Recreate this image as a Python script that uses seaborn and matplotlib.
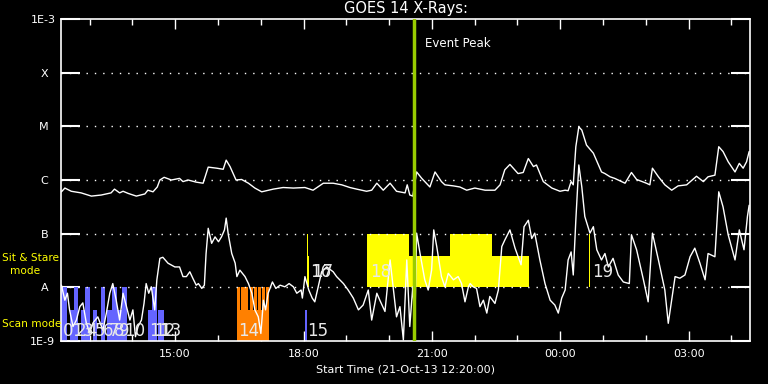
import matplotlib
matplotlib.use("Agg")
import matplotlib.pyplot as plt
import numpy as np
import pandas as pd
import seaborn as sns

# GOES 14 X-ray flux, time in hours after the start (21-Oct-13 12:20), flux as log10(W/m^2)
start_text = "Start Time (21-Oct-13 12:20:00)"
start_hour = 12 + 20 / 60
t_end = 16.1

long_t = [0.01, 0.09, 0.24, 0.47, 0.71, 0.94, 1.17, 1.25, 1.37, 1.45, 1.57, 1.76, 1.96, 2.03,
          2.15, 2.25, 2.31, 2.41, 2.58, 2.77, 2.85, 2.97, 3.16, 3.32, 3.44, 3.64, 3.79, 3.86,
          3.95, 4.09, 4.22, 4.38, 4.53, 4.69, 4.96, 5.19, 5.43, 5.70, 5.89, 6.13, 6.36, 6.56,
          6.75, 6.91, 7.14, 7.26, 7.38, 7.53, 7.69, 7.84, 8.04, 8.09, 8.15, 8.22, 8.31, 8.43,
          8.62, 8.74, 8.89, 8.97, 9.17, 9.32, 9.48, 9.67, 9.91, 10.14, 10.26, 10.37, 10.49,
          10.68, 10.80, 10.92, 11.04, 11.11, 11.27, 11.47, 11.66, 11.78, 11.85, 11.92, 11.97,
          12.03, 12.10, 12.17, 12.28, 12.44, 12.63, 12.71, 12.83, 12.94, 13.18, 13.33, 13.45,
          13.68, 13.76, 13.82, 13.96, 14.11, 14.27, 14.42, 14.62, 14.85, 15.01, 15.12, 15.28,
          15.37, 15.47, 15.59, 15.75, 15.85, 15.94, 16.02, 16.08]
long_logf = [-6.22, -6.15, -6.21, -6.24, -6.30, -6.28, -6.24, -6.17, -6.24, -6.21, -6.25, -6.30,
             -6.26, -6.19, -6.22, -6.13, -6.00, -5.95, -6.00, -5.97, -6.03, -6.00, -6.04, -6.06,
             -5.76, -5.78, -5.80, -5.63, -5.75, -6.00, -5.99, -6.06, -6.15, -6.22, -6.17, -6.14,
             -6.15, -6.14, -6.19, -6.06, -6.06, -6.09, -6.14, -6.17, -6.21, -6.19, -6.06, -6.19,
             -6.06, -6.21, -6.24, -6.09, -6.28, -6.30, -5.85, -5.97, -6.13, -5.85, -6.03, -6.09,
             -6.11, -6.13, -6.19, -6.15, -6.19, -6.19, -6.09, -5.81, -5.71, -5.88, -5.86, -5.60,
             -5.75, -5.72, -6.03, -6.15, -6.21, -6.19, -6.20, -6.03, -6.09, -5.38, -5.01, -5.07,
             -5.35, -5.50, -5.85, -5.88, -5.94, -5.97, -6.06, -5.86, -5.99, -6.06, -6.09, -5.78,
             -5.94, -6.09, -6.19, -6.11, -6.09, -5.93, -6.03, -5.94, -5.91, -5.38, -5.47, -5.66,
             -5.85, -5.69, -5.78, -5.66, -5.47]

short_t = [0.01, 0.09, 0.15, 0.20, 0.28, 0.36, 0.44, 0.51, 0.59, 0.67, 0.75, 0.86, 0.98, 1.06,
           1.14, 1.21, 1.29, 1.37, 1.45, 1.53, 1.61, 1.68, 1.74, 1.80, 1.88, 1.94, 1.99, 2.05,
           2.11, 2.19, 2.24, 2.31, 2.38, 2.50, 2.66, 2.77, 2.85, 2.93, 3.01, 3.08, 3.16, 3.21,
           3.29, 3.35, 3.39, 3.44, 3.52, 3.60, 3.68, 3.75, 3.82, 3.86, 3.91, 3.99, 4.07, 4.11,
           4.18, 4.30, 4.38, 4.46, 4.53, 4.61, 4.67, 4.73, 4.78, 4.84, 4.94, 5.02, 5.12, 5.23,
           5.33, 5.43, 5.51, 5.61, 5.64, 5.70, 5.79, 5.87, 5.93, 6.01, 6.09, 6.21, 6.36, 6.44,
           6.60, 6.71, 6.83, 6.95, 7.06, 7.18, 7.26, 7.38, 7.45, 7.57, 7.69, 7.76, 7.84, 7.92,
           8.00, 8.08, 8.15, 8.22, 8.27, 8.31, 8.39, 8.50, 8.58, 8.66, 8.71, 8.78, 8.89, 8.97,
           9.05, 9.17, 9.28, 9.36, 9.44, 9.52, 9.56, 9.63, 9.71, 9.79, 9.87, 9.95, 10.02, 10.14,
           10.22, 10.30, 10.37, 10.49, 10.61, 10.75, 10.82, 10.92, 11.00, 11.07, 11.19, 11.31,
           11.43, 11.54, 11.62, 11.70, 11.78, 11.85, 11.92, 11.97, 12.03, 12.10, 12.17, 12.24,
           12.36, 12.44, 12.52, 12.63, 12.71, 12.79, 12.90, 13.02, 13.14, 13.28, 13.33, 13.45,
           13.61, 13.72, 13.82, 13.96, 14.11, 14.19, 14.27, 14.35, 14.46, 14.58, 14.70, 14.81,
           14.93, 15.05, 15.12, 15.28, 15.37, 15.47, 15.59, 15.75, 15.85, 15.96, 16.04, 16.08]
short_logf = [-7.96, -8.24, -8.11, -8.42, -8.73, -8.61, -8.36, -8.29, -8.66, -8.85, -8.66, -8.55,
              -8.80, -8.48, -8.11, -7.93, -8.24, -8.61, -8.11, -8.36, -8.61, -8.42, -8.92, -8.73,
              -8.61, -8.30, -7.93, -8.11, -7.99, -8.42, -7.86, -7.46, -7.44, -7.55, -7.62, -7.62,
              -7.80, -7.80, -7.71, -7.83, -7.96, -7.93, -8.02, -7.96, -7.37, -6.90, -7.18, -7.06,
              -7.15, -7.06, -6.93, -6.71, -7.02, -7.37, -7.55, -7.80, -7.68, -7.80, -7.93, -8.11,
              -8.42, -8.55, -8.86, -8.24, -8.42, -8.11, -7.90, -8.02, -7.96, -7.99, -7.93, -7.99,
              -8.11, -8.05, -8.20, -7.80, -8.05, -8.20, -8.27, -7.99, -7.71, -7.62, -7.71, -7.80,
              -7.93, -8.05, -8.20, -8.42, -8.33, -8.05, -8.61, -8.11, -8.24, -8.45, -7.49, -7.99,
              -8.55, -8.36, -8.98, -7.49, -8.73, -7.99, -8.61, -6.99, -7.37, -7.86, -8.05, -7.68,
              -6.93, -7.24, -7.80, -7.99, -7.74, -7.86, -7.80, -7.93, -8.27, -7.99, -7.93, -7.99,
              -8.02, -8.36, -8.24, -8.48, -8.17, -8.30, -8.05, -7.24, -7.12, -6.93, -7.27, -7.58,
              -6.87, -6.75, -7.09, -6.99, -7.49, -7.93, -8.24, -8.33, -8.48, -8.20, -8.05, -7.49,
              -7.34, -7.77, -6.75, -5.72, -6.13, -6.68, -6.99, -6.87, -7.30, -7.49, -7.37, -7.62,
              -7.46, -7.77, -7.90, -7.93, -7.02, -7.30, -7.86, -8.27, -6.99, -7.49, -8.05, -8.67,
              -8.24, -7.80, -7.83, -7.77, -7.43, -7.27, -7.55, -7.86, -7.37, -7.43, -6.22, -6.50,
              -7.02, -7.49, -6.93, -7.30, -6.68, -6.47]

# scan mode observations: start, end (hours), top flux
scan_ids = ["0", "1", "2", "3", "4", "5", "6", "7", "8", "9", "10", "11", "12", "13"]
scan_start = [0.00, 0.21, 0.30, 0.47, 0.56, 0.75, 0.93, 1.07, 1.19, 1.31, 1.43, 2.03, 2.13, 2.27]
scan_end = [0.14, 0.30, 0.40, 0.56, 0.68, 0.84, 1.03, 1.19, 1.31, 1.43, 1.54, 2.13, 2.24, 2.41]
scan_top = [1e-8, 3.8e-9, 1e-8, 3.8e-9, 1e-8, 3.8e-9, 1e-8, 3.8e-9, 1e-8, 3.8e-9, 1e-8,
            3.8e-9, 1e-8, 3.8e-9]

# scan 14 (event scan, orange) and scan 15
s14_start = [4.11, 4.11, 4.21, 4.31, 4.41, 4.51, 4.60, 4.70, 4.80]
s14_end = [4.86, 4.19, 4.29, 4.38, 4.49, 4.58, 4.68, 4.77, 4.86]
s14_top = [3.8e-9, 1e-8, 1e-8, 1e-8, 1e-8, 1e-8, 1e-8, 1e-8, 1e-8]
s15_start, s15_end, s15_top = 5.70, 5.76, 3.8e-9

# sit & stare observations
ss_ids = ["16", "17", "18", "", "", "", "19"]
ss_start = [5.74, 5.78, 7.15, 8.13, 9.09, 10.07, 12.34]
ss_end = [5.78, 5.80, 8.13, 9.09, 10.07, 10.93, 12.365]
ss_top = [1e-7, 3.8e-8, 1e-7, 3.8e-8, 1e-7, 3.8e-8, 1e-7]

event_peak = 8.25

class_names = ["1E-9", "A  ", "B  ", "C  ", "M  ", "X  ", "1E-3"]
class_levels = [1e-9, 1e-8, 1e-7, 1e-6, 1e-5, 1e-4, 1e-3]
hour_labels = ["15:00", "18:00", "21:00", "00:00", "03:00"]

sns.set_theme(style="dark", rc={
    "figure.facecolor": "black", "axes.facecolor": "black", "savefig.facecolor": "black",
    "axes.edgecolor": "white", "text.color": "white", "xtick.color": "white",
    "ytick.color": "white", "axes.labelcolor": "white", "axes.grid": False,
})
plt.rcParams["font.family"] = ["DejaVu Sans"]

fig = plt.figure(figsize=(7.68, 3.84), dpi=100)
ax = fig.add_axes([61 / 768, 43 / 384, 689 / 768, 322 / 384])
ax.set_yscale("log")

# observation bars
blue = "#6464ff"
for a, b, top in zip(scan_start, scan_end, scan_top):
    ax.bar(a, top - 1e-9, width=b - a, bottom=1e-9, align="edge", color=blue, lw=0, zorder=1)
for a, b, top in zip(s14_start, s14_end, s14_top):
    ax.bar(a, top - 1e-9, width=b - a, bottom=1e-9, align="edge", color="#ff8000", lw=0, zorder=1)
ax.bar(s15_start, s15_top - 1e-9, width=s15_end - s15_start, bottom=1e-9, align="edge",
       color=blue, lw=0, zorder=1)
for a, b, top in zip(ss_start, ss_end, ss_top):
    ax.bar(a, top - 1e-8, width=b - a, bottom=1e-8, align="edge", color="#ffff00", lw=0, zorder=1)

num_kw = dict(color="#e8e8e8", fontsize=12, va="center", ha="left", zorder=5)
for sid, a in zip(scan_ids, scan_start):
    ax.text(a + 0.04, 10 ** -8.81, sid, **num_kw)
ax.text(s14_start[0] + 0.04, 10 ** -8.81, "14", **num_kw)
ax.text(s15_start + 0.06, 10 ** -8.81, "15", **num_kw)
for sid, a in zip(ss_ids, ss_start):
    if sid:
        ax.text(a + 0.08, 10 ** -7.71, sid, **num_kw)

# GOES curves
long_df = pd.DataFrame({"hours": long_t, "flux": 10 ** np.array(long_logf)})
short_df = pd.DataFrame({"hours": short_t, "flux": 10 ** np.array(short_logf)})
sns.lineplot(data=long_df, x="hours", y="flux", color="white", lw=1, estimator=None,
             sort=False, ax=ax, zorder=3)
sns.lineplot(data=short_df, x="hours", y="flux", color="white", lw=1, estimator=None,
             sort=False, ax=ax, zorder=3)

for lev in class_levels[1:-1]:
    ax.axhline(lev, color="white", lw=1, ls=(0, (1, 5)), zorder=2)

ax.axvline(event_peak, color="#99cc00", lw=2.5, zorder=4)
ax.text(event_peak + 0.26, 10 ** -3.45, "Event Peak", color="white", fontsize=8.5,
        va="center", ha="left")

ax.set_xlim(0, t_end)
ax.set_ylim(1e-9, 1e-3)

# time ticks
major_pos = [(int(h[:2]) - start_hour) % 24 for h in hour_labels]
minor_pos = [(h - start_hour) % 24 for h in range(13, 13 + 16)]
ax.set_xticks(major_pos)
ax.set_xticklabels(hour_labels, fontsize=8)
ax.set_xticks(minor_pos, minor=True)
ax.tick_params(axis="x", which="major", direction="in", length=7, width=1, top=True,
               bottom=True, pad=6)
ax.tick_params(axis="x", which="minor", direction="in", length=4, width=1, top=True,
               bottom=True)

ax.set_yticks(class_levels)
ax.set_yticklabels(class_names, fontsize=8)
ax.yaxis.set_minor_locator(matplotlib.ticker.NullLocator())
ax.tick_params(axis="y", which="major", direction="in", length=14, width=1.5,
               left=True, right=True, pad=4)

for sp in ax.spines.values():
    sp.set_color("white")
    sp.set_linewidth(1.2)

ax.set_xlabel(start_text, fontsize=8, labelpad=4)
ax.set_ylabel("")
ax.set_title("GOES 14 X-Rays:", fontsize=10.5, color="white", pad=4)

side_kw = dict(color="#ffff00", fontsize=7.6, va="center")
fig.text(2 / 768, 1 - 258 / 384, "Sit & Stare", ha="left", **side_kw)
fig.text(25 / 768, 1 - 271 / 384, "mode", ha="center", **side_kw)
fig.text(2 / 768, 1 - 324 / 384, "Scan mode", ha="left", **side_kw)

fig.savefig("out.png", dpi=100, facecolor="black")
